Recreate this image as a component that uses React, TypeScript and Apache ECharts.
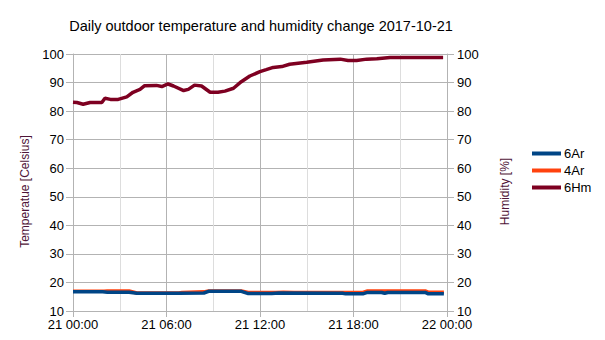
import React, { useEffect, useRef } from "react";
import * as echarts from "echarts";

const TITLE = "Daily outdoor temperature and humidity change 2017-10-21";
const DAY = "21";

// times given as "HH:MM" on 2017-10-21
const t6ArTimes = ["00:00", "01:54", "02:12", "03:36", "04:06", "06:48", "08:24", "08:42", "10:48", "11:15", "12:45", "13:12", "17:18", "17:30", "18:36", "18:54", "19:48", "20:00", "20:12", "22:36", "22:48", "23:48"];
const t6ArValues = [16.7, 16.7, 16.6, 16.6, 16.2, 16.2, 16.3, 16.9, 16.9, 16.1, 16.1, 16.3, 16.2, 16.0, 16.0, 16.5, 16.5, 16.2, 16.5, 16.5, 16.0, 16.0];

const t4ArTimes = ["00:00", "02:00", "02:12", "03:36", "04:06", "06:48", "07:00", "08:24", "08:42", "10:48", "11:15", "13:00", "13:30", "14:12", "18:36", "18:54", "19:48", "20:06", "22:36", "22:48", "23:48"];
const t4ArValues = [16.9, 16.9, 17.0, 17.0, 16.3, 16.3, 16.5, 16.7, 17.0, 17.0, 16.5, 16.5, 16.6, 16.5, 16.5, 17.0, 17.0, 17.0, 17.0, 16.6, 16.6];

const h6HmTimes = ["00:00", "00:15", "00:39", "01:06", "01:51", "02:03", "02:24", "02:54", "03:27", "03:51", "04:18", "04:36", "05:21", "05:42", "06:06", "06:27", "07:06", "07:24", "07:48", "08:15", "08:48", "09:18", "09:45", "10:18", "10:48", "11:21", "12:00", "12:24", "12:51", "13:24", "13:54", "15:00", "16:03", "17:09", "17:39", "18:12", "18:51", "19:30", "20:21", "23:45"];
const h6HmValues = [83.1, 83.0, 82.4, 83.0, 83.0, 84.5, 84.1, 84.1, 85.0, 86.6, 87.6, 88.9, 89.0, 88.6, 89.5, 88.8, 87.2, 87.6, 89.1, 88.8, 86.6, 86.6, 87.0, 88.0, 90.3, 92.3, 93.8, 94.5, 95.3, 95.6, 96.4, 97.1, 97.9, 98.2, 97.7, 97.7, 98.2, 98.3, 98.8, 98.8];

const toHours = (s: string) => {
  const [h, m] = s.split(":").map(Number);
  return h + m / 60;
};
const pair = (times: string[], vals: number[]) => times.map((t, i) => [toHours(t), vals[i]]);

const pad = (n: number) => (n < 10 ? "0" + n : "" + n);

export default function App() {
  const ref = useRef<HTMLDivElement>(null);
  useEffect(() => {
    if (!ref.current) return;
    const chart = echarts.init(ref.current, undefined, { renderer: "svg" });
    const font = "'Liberation Sans', Arial, sans-serif";
    const axisGray = "#b3b3b3";
    const yAxisCommon = {
      type: "value" as const,
      min: 10,
      max: 100,
      interval: 10,
      axisLine: { show: true, lineStyle: { color: axisGray } },
      axisTick: { show: true, length: 7, lineStyle: { color: axisGray } },
      axisLabel: { color: "#000", fontSize: 13, fontFamily: font, margin: 9 },
      nameLocation: "middle" as const,
      nameRotate: 90,
      nameTextStyle: { color: "#4f1538", fontSize: 12, fontFamily: font, padding: [0, 18, 0, 0] },
    };
    chart.setOption({
      animation: false,
      backgroundColor: "#fff",
      title: {
        text: TITLE,
        left: 256,
        textAlign: "center",
        top: 13,
        textStyle: { fontSize: 14.5, fontWeight: "normal", color: "#000", fontFamily: font },
      },
      legend: {
        orient: "vertical",
        left: 532,
        top: 146,
        padding: 0,
        icon: "rect",
        itemWidth: 29,
        itemHeight: 4,
        itemGap: 2,
        data: ["6Ar", "4Ar", "6Hm"],
        textStyle: { fontSize: 13, color: "#000", fontFamily: font, padding: [0, 0, 0, -2], lineHeight: 15 },
      },
      grid: { left: 73, right: 158, top: 54, bottom: 29 },
      xAxis: {
        type: "value",
        min: 0,
        max: 24,
        interval: 6,
        axisLine: { show: true, lineStyle: { color: axisGray } },
        axisTick: { show: true, length: 6, lineStyle: { color: axisGray } },
        axisLabel: {
          color: "#000",
          fontSize: 13,
          fontFamily: font,
          margin: 7,
          formatter: (v: number) => (v >= 24 ? "22" : DAY) + " " + pad(v % 24) + ":00",
        },
        splitLine: { show: true, lineStyle: { color: axisGray } },
        minorTick: { show: false, splitNumber: 2 },
        minorSplitLine: { show: true, lineStyle: { color: "#dddddd" } },
      },
      yAxis: [
        {
          ...yAxisCommon,
          name: "Temperatue [Celsius]",
          nameGap: 40,
          position: "left",
          splitLine: { show: true, lineStyle: { color: axisGray } },
        },
        {
          ...yAxisCommon,
          name: "Humidity [%]",
          nameGap: 52,
          position: "right",
          splitLine: { show: false },
          axisLabel: { ...yAxisCommon.axisLabel, margin: 10 },
        },
      ],
      series: [
        {
          name: "4Ar",
          type: "line",
          yAxisIndex: 0,
          showSymbol: false,
          symbol: "none",
          data: pair(t4ArTimes, t4ArValues),
          lineStyle: { color: "#ff420e", width: 3.5 },
          itemStyle: { color: "#ff420e" },
          z: 2,
        },
        {
          name: "6Ar",
          type: "line",
          yAxisIndex: 0,
          showSymbol: false,
          symbol: "none",
          data: pair(t6ArTimes, t6ArValues),
          lineStyle: { color: "#004586", width: 3.5 },
          itemStyle: { color: "#004586" },
          z: 3,
        },
        {
          name: "6Hm",
          type: "line",
          yAxisIndex: 1,
          showSymbol: false,
          symbol: "none",
          data: pair(h6HmTimes, h6HmValues),
          lineStyle: { color: "#7e0021", width: 3.5 },
          itemStyle: { color: "#7e0021" },
          z: 4,
        },
      ],
    });
    return () => chart.dispose();
  }, []);
  return (
    <div
      ref={ref}
      style={{ position: "fixed", left: 0, top: 0, width: 605, height: 340 }}
    />
  );
}
